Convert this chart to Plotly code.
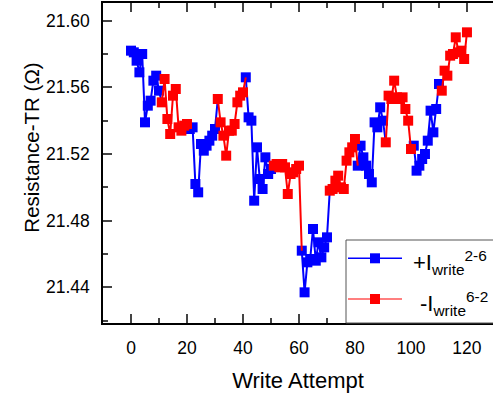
import plotly.graph_objects as go

# +I write current (2-6) measurements
plus_x = [0, 1, 2, 3, 4, 5, 6, 7, 8, 9, 10,
          21, 22, 23, 24, 25, 26, 27, 28, 29, 30,
          41, 42, 43, 44, 45, 46, 47, 48, 49, 50,
          61, 62, 63, 64, 65, 66, 67, 68, 69, 70,
          81, 82, 83, 84, 85, 86, 87, 88, 89, 90,
          101, 102, 103, 104, 105, 106, 107, 108, 109, 110]
plus_y = [21.582, 21.581, 21.576, 21.569, 21.580, 21.539, 21.549, 21.552, 21.564, 21.567, 21.558,
          21.535, 21.536, 21.502, 21.497, 21.526, 21.522, 21.525, 21.528, 21.531, 21.535,
          21.566, 21.542, 21.540, 21.492, 21.524, 21.505, 21.499, 21.518, 21.508, 21.511,
          21.462, 21.437, 21.455, 21.457, 21.475, 21.456, 21.467, 21.458, 21.464, 21.470,
          21.513, 21.525, 21.518, 21.513, 21.508, 21.503, 21.539, 21.536, 21.548, 21.540,
          21.525, 21.510, 21.513, 21.517, 21.520, 21.528, 21.546, 21.533, 21.547, 21.562]

# -I write current (6-2) measurements
minus_x = [11, 12, 13, 14, 15, 16, 17, 18, 19, 20,
           31, 32, 33, 34, 35, 36, 37, 38, 39, 40,
           51, 52, 53, 54, 55, 56, 57, 58, 59, 60,
           71, 72, 73, 74, 75, 76, 77, 78, 79, 80,
           91, 92, 93, 94, 95, 96, 97, 98, 99, 100,
           111, 112, 113, 114, 115, 116, 117, 118, 119, 120]
minus_y = [21.551, 21.565, 21.541, 21.532, 21.555, 21.559, 21.536, 21.534, 21.537, 21.538,
           21.553, 21.539, 21.531, 21.519, 21.534, 21.534, 21.538, 21.551, 21.555, 21.557,
           21.513, 21.514, 21.512, 21.514, 21.512, 21.496, 21.508, 21.509, 21.511, 21.513,
           21.498, 21.499, 21.504, 21.507, 21.500, 21.499, 21.516, 21.521, 21.524, 21.529,
           21.527, 21.555, 21.553, 21.564, 21.554, 21.553, 21.554, 21.547, 21.540, 21.523,
           21.558, 21.570, 21.567, 21.579, 21.580, 21.590, 21.581, 21.582, 21.577, 21.593]

x_ticks = [0, 20, 40, 60, 80, 100, 120]
y_ticks = [21.44, 21.48, 21.52, 21.56, 21.60]
y_tick_text = ["21.44", "21.48", "21.52", "21.56", "21.60"]

BLUE = "#0000FF"
RED = "#FF0000"
FONT = "Arial, Liberation Sans, sans-serif"

# one time-ordered sequence; each block's line runs on to the first point of the next block
seq = sorted([(x, y, "p") for x, y in zip(plus_x, plus_y)] +
             [(x, y, "m") for x, y in zip(minus_x, minus_y)])


def line_path(tag):
    xs, ys = [], []
    for i, (x, y, t) in enumerate(seq):
        if t != tag:
            continue
        xs.append(x)
        ys.append(y)
        if i + 1 < len(seq) and seq[i + 1][2] != tag:
            xs += [seq[i + 1][0], None]
            ys += [seq[i + 1][1], None]
    return xs, ys


fig = go.Figure()
for tag, xs, ys, col in [("p", plus_x, plus_y, BLUE), ("m", minus_x, minus_y, RED)]:
    lx, ly = line_path(tag)
    fig.add_trace(go.Scatter(x=lx, y=ly, mode="lines", line=dict(color=col, width=2),
                             connectgaps=False, showlegend=False, hoverinfo="skip"))
    fig.add_trace(go.Scatter(x=xs, y=ys, mode="markers",
                             marker=dict(symbol="square", size=10, color=col, line=dict(width=0)),
                             showlegend=False))

x_range = [-10, 129.3]
y_range = [21.4186, 21.6106]

fig.update_layout(
    width=493, height=393,
    margin=dict(l=103, r=0, t=3, b=70),
    paper_bgcolor="white", plot_bgcolor="white",
    font=dict(family=FONT, color="black"),
    xaxis=dict(range=x_range, tickvals=x_ticks, ticks="inside", ticklen=9, tickwidth=1.5,
               showline=True, linecolor="black", linewidth=1.5, mirror="ticks",
               showgrid=False, zeroline=False, tickfont=dict(size=17.5),
               ticklabelstandoff=8,
               minor=dict(dtick=10, tick0=0, ticks="inside", ticklen=5, tickwidth=1.5),
               title=dict(text="Write Attempt", font=dict(size=22), standoff=19)),
    yaxis=dict(range=y_range, tickvals=y_ticks, ticktext=y_tick_text, ticks="inside",
               ticklen=9, tickwidth=1.5, showline=True, linecolor="black", linewidth=1.5,
               mirror=False, showgrid=False, zeroline=False, tickfont=dict(size=17.5),
               ticklabelstandoff=8,
               minor=dict(dtick=0.02, tick0=21.44, ticks="inside", ticklen=5, tickwidth=1.5)),
    yaxis2=dict(range=y_range, overlaying="y", side="right", tickvals=y_ticks,
                ticks="inside", ticklen=9, tickwidth=1.5, showticklabels=False,
                showline=False, showgrid=False, zeroline=False,
                minor=dict(dtick=0.02, tick0=21.44, ticks="inside", ticklen=5, tickwidth=1.5)),
)

# y-axis title
fig.add_annotation(text="Resistance-TR (\u03a9)", textangle=-90, xref="paper", yref="paper",
                   x=-0.182, y=0.548, xanchor="center", yanchor="middle", showarrow=False,
                   font=dict(size=20.5, family=FONT))

# legend box with line-and-symbol samples
PL, PT, PW, PH = 103, 3, 390, 320


def px(xp):
    return (xp - PL) / PW


def py(yp):
    return (PT + PH - yp) / PH


fig.add_shape(type="rect", xref="paper", yref="paper", x0=px(346), x1=px(520),
              y0=0, y1=py(240), line=dict(color="#555555", width=1), fillcolor="white",
              layer="above")
for ypos, col, lw, label, tx in [(258.3, BLUE, 1.5, "+I<sub>write</sub><sup>2-6</sup>", 411),
                                  (299, RED, 1.2, "-I<sub>write</sub><sup>6-2</sup>", 418)]:
    fig.add_shape(type="line", xref="paper", yref="paper", x0=px(348), x1=px(402),
                  y0=py(ypos), y1=py(ypos), line=dict(color=col, width=lw), layer="above")
    fig.add_shape(type="rect", xref="paper", yref="paper", xsizemode="pixel", ysizemode="pixel",
                  xanchor=px(375), yanchor=py(ypos), x0=-5, x1=5, y0=-5, y1=5,
                  fillcolor=col, line=dict(width=0), layer="above")
    fig.add_annotation(text=label, xref="paper", yref="paper", x=px(tx), y=py(ypos + 4),
                       xanchor="left", yanchor="middle", showarrow=False,
                       font=dict(size=22, family=FONT, color="black"))

fig.write_html("out.html")
